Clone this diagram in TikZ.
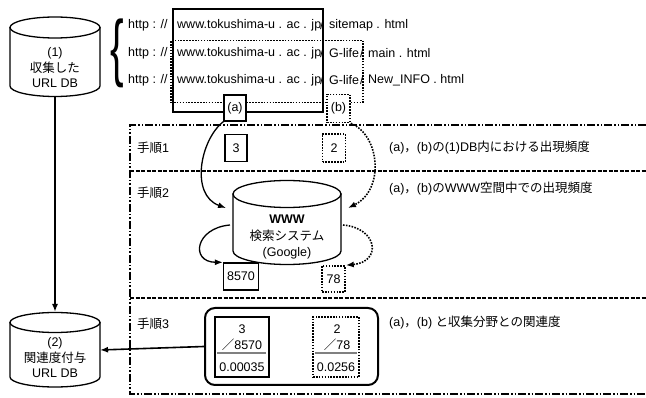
\documentclass[tikz,border=0pt]{standalone}
\usepackage{fontspec}
\setmainfont{Liberation Sans}
\newfontfamily\jp{Noto Sans CJK JP}
\newcommand\jt[1]{{\jp #1}}
\usetikzlibrary{arrows.meta}
\newcommand\mycyl[5]{%
  \filldraw[ln, fill=white] ({#1-#4},#2) -- ({#1-#4},#3)
    arc[start angle=180,end angle=0,x radius=#4,y radius=#5] -- ({#1+#4},#2) -- cycle;
  \filldraw[ln, fill=white] (#1,#2) ellipse[x radius=#4,y radius=#5];
}
\begin{document}
\begin{tikzpicture}[x=1pt,y=-1pt,
  every node/.style={font=\fontsize{12.5}{15.5}\selectfont, inner sep=0pt},
  ln/.style={line width=1.3pt},
  dotln/.style={line width=1.6pt, dash pattern=on 1.6pt off 1.3pt},
  sbox/.style={draw, ln, fill=white},
  dbox/.style={draw, dotln, fill=white},
  frameln/.style={line width=1.5pt, dash pattern=on 8pt off 2pt on 1.5pt off 2pt on 1.5pt off 2pt},
  sepln/.style={line width=1.5pt, dash pattern=on 4pt off 1.5pt},
  arr/.style={ln, -{Latex[length=8pt,width=6pt]}},
  darr/.style={dotln, -{Latex[length=8pt,width=6pt]}},
  lbl/.style={anchor=west}]
\useasboundingbox (0,0) rectangle (646,398);

% frame
\draw[frameln] (646,125) -- (130,125) -- (130,394) -- (646,394);
\draw[sepln] (130,171) -- (646,171);
\draw[sepln] (130,298) -- (646,298);

% cylinders
\mycyl{55}{27.5}{86}{45}{10.5}
\node[align=center] (db1) at (55,68) {(1)\\\jt{収集した}\\URL DB};
\coordinate (db1b) at (55,96.5);
\mycyl{55}{322.5}{377}{45}{10}
\node[align=center] (db2) at (55,358) {(2)\\\jt{関連度付与}\\URL DB};
\coordinate (db2t) at (55,312);
\coordinate (db2r) at (100,350);

% brace
\node[font=\fontsize{74}{74}\selectfont, xscale=0.55] (brace) at (117,53) {\{};

% URL boxes
\node[draw, ln, minimum width=150pt, minimum height=103pt] (urla) at (248,60.5) {};
\node[draw, dotln, minimum width=192pt, minimum height=62pt] (urlb) at (267,71.5) {};

% URL lines
\node[lbl] (h1) at (128,25) {http : //};
\node[lbl] (w1) at (177,25) {www.tokushima-u . ac . jp};
\node[lbl] (s1) at (320,25) {/};
\node[lbl] (p1) at (329,25) {sitemap . html};
\node[lbl] (h2) at (128,53) {http : //};
\node[lbl] (w2) at (177,53) {www.tokushima-u . ac . jp};
\node[lbl] (s2) at (320,53) {/};
\node[lbl] (g2) at (329,53) {G-life};
\node[lbl] (t2) at (360,53) {/};
\node[lbl] (p2) at (368,53) {main . html};
\node[lbl] (h3) at (128,80) {http : //};
\node[lbl] (w3) at (177,80) {www.tokushima-u . ac . jp};
\node[lbl] (s3) at (320,80) {/};
\node[lbl] (g3) at (329,80) {G-life};
\node[lbl] (t3) at (360,80) {/};
\node[lbl] (p3) at (368,80) {New\_INFO . html};

% (a) (b)
\node[sbox, minimum width=22pt, minimum height=26pt] (a) at (235,108) {(a)};
\node[dbox, minimum width=23pt, minimum height=28pt] (b) at (338.5,108.5) {(b)};

% step labels
\node[lbl] (st1) at (137,148) {\jt{手順}1};
\node[lbl] (st2) at (137,193) {\jt{手順}2};
\node[lbl] (st3) at (137,324) {\jt{手順}3};

% step 1 boxes
\node[sbox, minimum width=22pt, minimum height=27pt] (n3) at (236,148) {3};
\node[dbox, minimum width=23pt, minimum height=28pt] (n2) at (334,148) {2};

% descriptions
\node[lbl] (d1) at (389,148) {(a)\jt{，}(b)\jt{の}(1)DB\jt{内における出現頻度}};
\node[lbl] (d2) at (389,189) {(a)\jt{，}(b)\jt{の}WWW\jt{空間中での出現頻度}};
\node[lbl] (d3) at (389,323) {(a)\jt{，}(b) \jt{と収集分野との関連度}};

% WWW cylinder
\mycyl{287}{194}{251}{54}{13.5}
\node[align=center, font=\fontsize{12.5}{16.5}\selectfont] (www) at (287,237) {\textbf{WWW}\\\jt{検索システム}\\(Google)};
\coordinate (wl) at (226,208);
\coordinate (wr) at (348,208);
\coordinate (wlo) at (230,225);
\coordinate (wro) at (343,225);

% step 2 boxes
\node[sbox, minimum width=35pt, minimum height=27pt] (n8570) at (241,276.5) {8570};
\node[dbox, minimum width=23pt, minimum height=26pt] (n78) at (333.5,279) {78};

% arrows
\draw[arr] (a.south west) .. controls (200,140) and (190,195) .. (wl);
\draw[darr] (b.south east) .. controls (380,135) and (385,190) .. (wr);
\draw[arr] (wlo) .. controls (195,228) and (190,262) .. (n8570.north west);
\draw[darr] (wro) .. controls (378,228) and (382,262) .. (n78.north east);

% step 3
\node[draw, line width=2pt, rounded corners=10pt, minimum width=173pt, minimum height=77pt] (rbox) at (291.5,346.5) {};
\node[draw, ln, minimum width=54pt, minimum height=60pt] (fa) at (242,347) {};
\node[draw, dotln, minimum width=46pt, minimum height=60pt] (fb) at (336,347) {};
\node (fa1) at (242,329) {3};
\node (fa2) at (242,345) {\jt{／}8570};
\node (fa3) at (242,367) {0.00035};
\node (fb1) at (337,329) {2};
\node (fb2) at (337,345) {\jt{／}78};
\node (fb3) at (336,367) {0.0256};
\draw[line width=2pt, black!50] ([xshift=3pt]fa.west |- 0,353) -- ([xshift=-4pt]fa.east |- 0,353);
\draw[line width=2pt, black!50] ([xshift=3pt]fb.west |- 0,353) -- ([xshift=-3pt]fb.east |- 0,353);

% main arrows
\draw[arr, line width=1.6pt] (db1b) -- (db2t);
\draw[arr, line width=1.6pt] (rbox.west) -- (db2r);
\end{tikzpicture}
\end{document}
